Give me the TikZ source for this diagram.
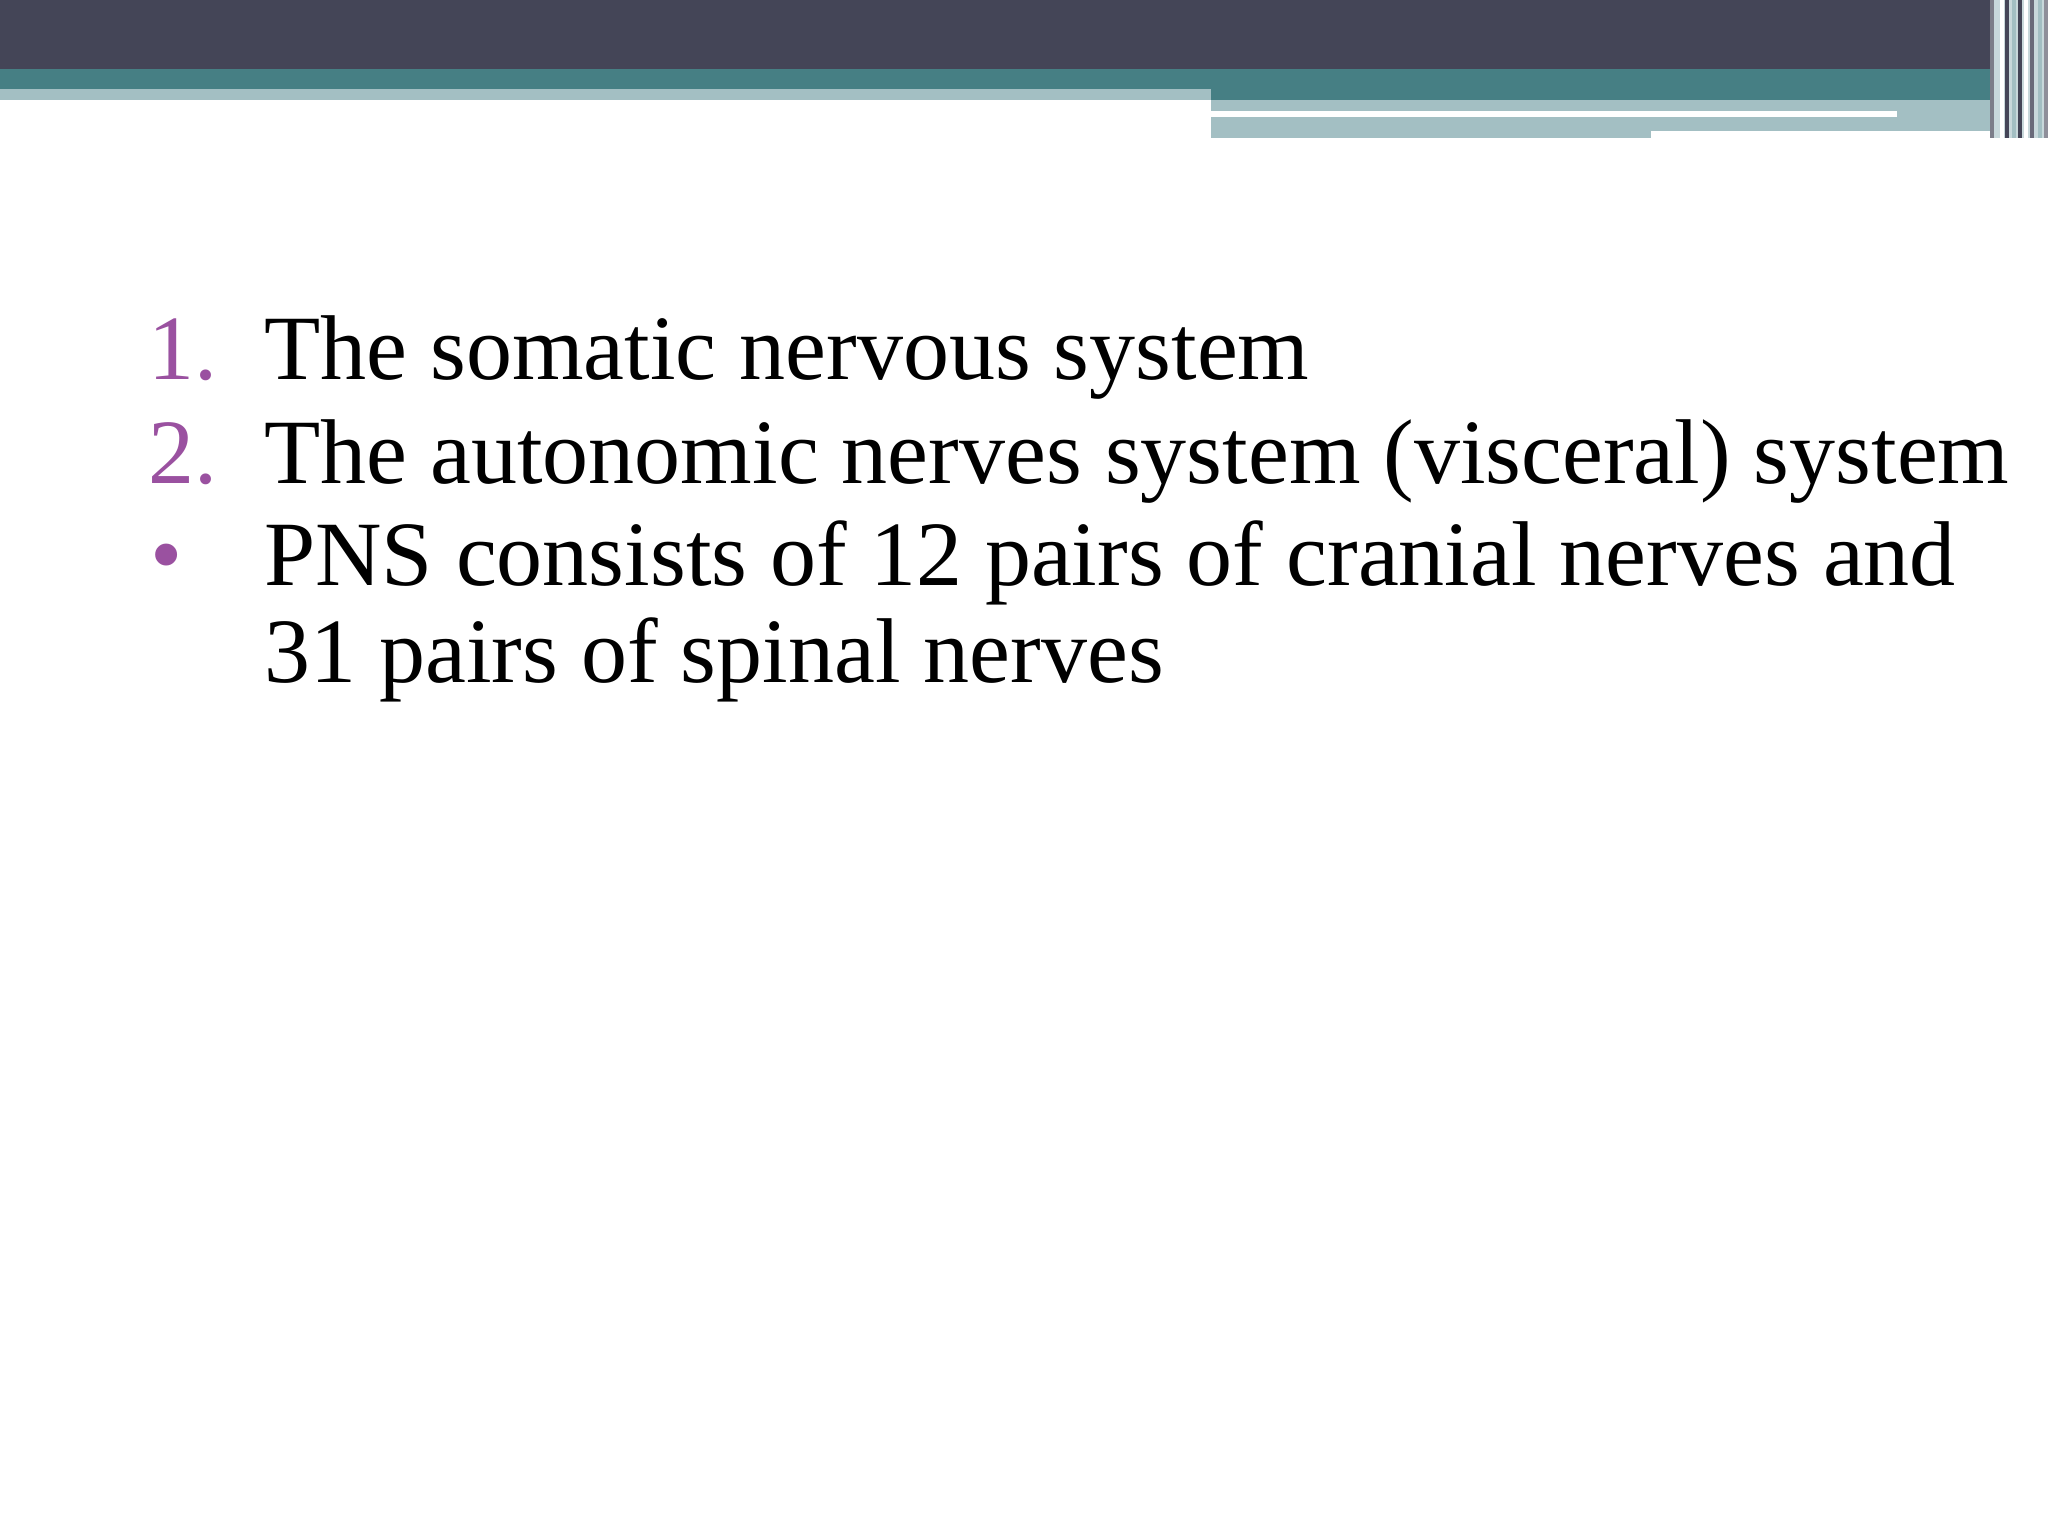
\documentclass[tikz,border=0pt]{standalone}
\usepackage{fontspec}
\setmainfont{Liberation Serif}
\definecolor{dark}{HTML}{444557}
\definecolor{teal}{HTML}{467F84}
\definecolor{light}{HTML}{A3BFC3}
\definecolor{purp}{HTML}{9A51A0}
\begin{document}
\begin{tikzpicture}[x=0.5pt,y=-0.5pt,
  txt/.style={anchor=base west,inner sep=0pt,font=\fontsize{46}{52}\selectfont},
  num/.style={txt,text=purp}]
\useasboundingbox (0,0) rectangle (2048,1536);
\fill[white] (0,0) rectangle (2048,1536);
\fill[dark] (0,0) rectangle (2048,69);
\fill[teal] (0,69) rectangle (2048,100);
\fill[light] (0,89) rectangle (1211,100);
\fill[light] (1211,100) rectangle (1990,138);
\fill[white] (1211,111) rectangle (1897,117);
\fill[white] (1651,131) rectangle (1990,138);
\fill[light!60] (1990,0) rectangle (2048,138);
\foreach \x/\c in {1990/dark!70,2000/white,2005/dark,2012/light,2018/dark,2024/white,2030/dark!80,2038/light,2044/dark!60}
  \fill[\c] (\x,0) rectangle ++(4,138);
\node[num] (n1) at (148,379) {1.};
\node[txt] (t1) at (264,379) {The somatic nervous system};
\node[num] (n2) at (148,483) {2.};
\node[txt] (t2) at (264,483) {The autonomic nerves system (visceral) system};
\node[num] (n3) at (150,585) {•};
\node[txt] (t3) at (264,585) {PNS consists of 12 pairs of cranial nerves and};
\node[txt] (t4) at (264,682) {31 pairs of spinal nerves};
\end{tikzpicture}
\end{document}
